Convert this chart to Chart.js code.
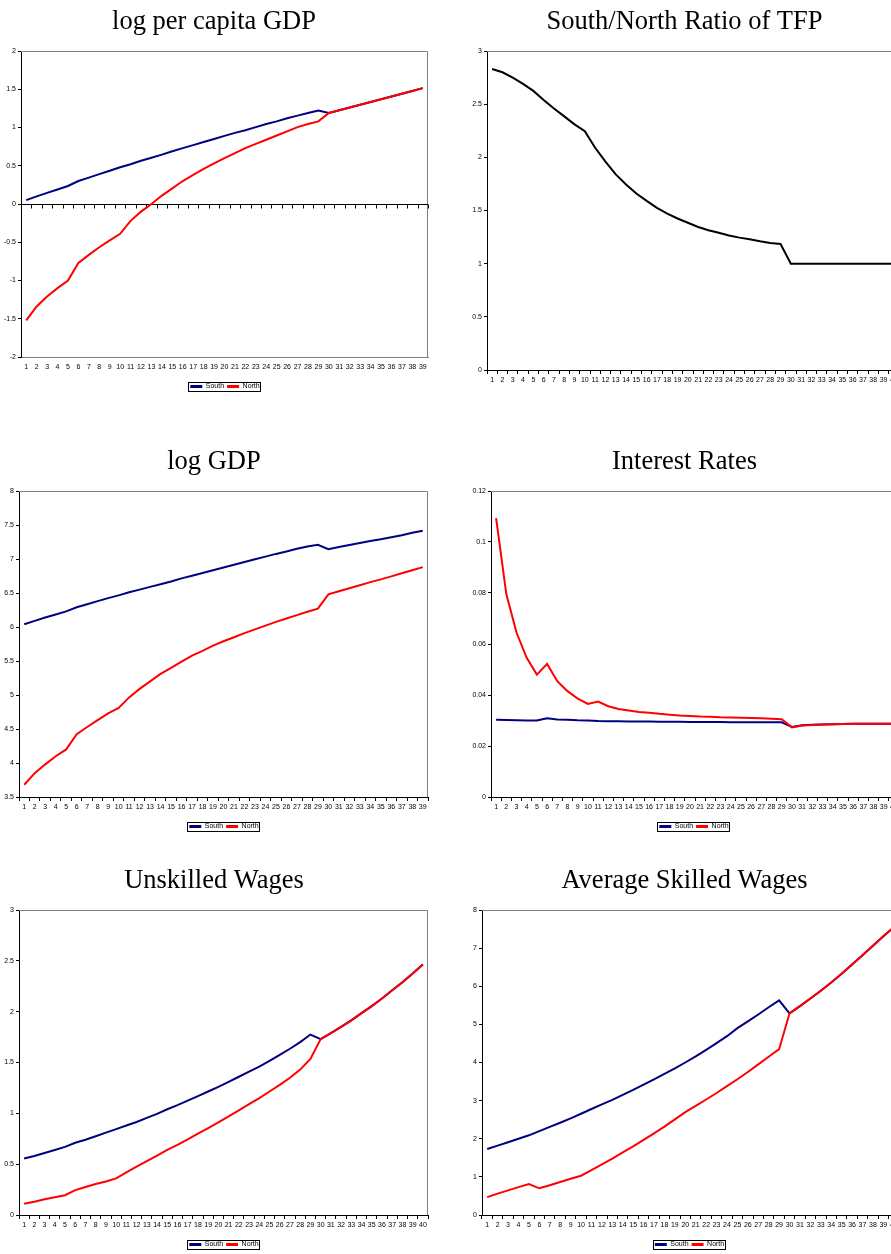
<!DOCTYPE html>
<html>
<head>
<meta charset="utf-8">
<script src="https://cdn.jsdelivr.net/npm/chart.js@4.4.1/dist/chart.umd.min.js"></script>
<style>
  html, body { margin: 0; padding: 0; background: #fff; overflow: hidden; width: 891px; height: 1254px; }
  canvas { position: absolute; }
</style>
</head>
<body>
<canvas id="gdppc" width="445" height="400" style="left:0;top:0"></canvas>
<canvas id="tfp" width="466" height="393" style="left:450px;top:0"></canvas>
<canvas id="gdp" width="445" height="400" style="left:0;top:440px"></canvas>
<canvas id="rates" width="466" height="400" style="left:450px;top:440px"></canvas>
<canvas id="unskilled" width="445" height="399" style="left:0;top:859px"></canvas>
<canvas id="skilled" width="466" height="399" style="left:450px;top:859px"></canvas>
<script>
// periods on the x axis
const periods39 = ['1','2','3','4','5','6','7','8','9','10','11','12','13','14','15','16','17','18','19','20',
  '21','22','23','24','25','26','27','28','29','30','31','32','33','34','35','36','37','38','39'];
const periods40 = ['1','2','3','4','5','6','7','8','9','10','11','12','13','14','15','16','17','18','19','20',
  '21','22','23','24','25','26','27','28','29','30','31','32','33','34','35','36','37','38','39','40'];

// log per capita GDP
const gdppcSouth = [0.05, 0.10, 0.145, 0.19, 0.235, 0.30, 0.345, 0.39, 0.435, 0.48, 0.52, 0.565, 0.605, 0.645, 0.69,
  0.73, 0.77, 0.81, 0.85, 0.89, 0.93, 0.965, 1.005, 1.045, 1.08, 1.12, 1.155, 1.19, 1.222, 1.19,
  1.226, 1.262, 1.298, 1.334, 1.37, 1.406, 1.442, 1.478, 1.515];
const gdppcNorth = [-1.52, -1.34, -1.21, -1.10, -1.0, -0.77, -0.665, -0.565, -0.475, -0.39, -0.22, -0.10, 0.0, 0.11, 0.205,
  0.30, 0.38, 0.46, 0.53, 0.60, 0.665, 0.73, 0.785, 0.84, 0.895, 0.95, 1.005, 1.045, 1.08, 1.19,
  1.226, 1.262, 1.298, 1.334, 1.37, 1.406, 1.442, 1.478, 1.515];

// South/North ratio of TFP
const tfpRatio = [2.83, 2.80, 2.75, 2.69, 2.625, 2.54, 2.46, 2.385, 2.31, 2.245, 2.09, 1.96, 1.84, 1.745, 1.66,
  1.59, 1.525, 1.47, 1.425, 1.385, 1.345, 1.315, 1.29, 1.265, 1.245, 1.23, 1.21, 1.195, 1.185, 1.0,
  1.0, 1.0, 1.0, 1.0, 1.0, 1.0, 1.0, 1.0, 1.0, 1.0];

// log GDP
const gdpSouth = [6.04, 6.09, 6.14, 6.185, 6.23, 6.29, 6.335, 6.38, 6.425, 6.465, 6.51, 6.55, 6.59, 6.63, 6.67,
  6.715, 6.755, 6.795, 6.835, 6.875, 6.915, 6.955, 6.995, 7.035, 7.075, 7.11, 7.15, 7.185, 7.21, 7.145,
  7.175, 7.205, 7.235, 7.265, 7.29, 7.32, 7.35, 7.385, 7.415];
const gdpNorth = [3.68, 3.85, 3.98, 4.10, 4.20, 4.425, 4.53, 4.63, 4.73, 4.81, 4.965, 5.09, 5.20, 5.31, 5.40,
  5.49, 5.58, 5.65, 5.725, 5.79, 5.85, 5.91, 5.965, 6.02, 6.075, 6.125, 6.175, 6.225, 6.27, 6.48,
  6.525, 6.57, 6.615, 6.66, 6.70, 6.745, 6.79, 6.835, 6.88];

// interest rates
const rateSouth = [0.0303, 0.0302, 0.0301, 0.0300, 0.0300, 0.0309, 0.0304, 0.0303, 0.0301, 0.0300, 0.0298, 0.0297, 0.0297, 0.0296, 0.0296,
  0.0296, 0.0295, 0.0295, 0.0295, 0.0294, 0.0294, 0.0294, 0.0294, 0.0293, 0.0293, 0.0293, 0.0293, 0.0293, 0.0293, 0.0275,
  0.0281, 0.0283, 0.0284, 0.0285, 0.0286, 0.0287, 0.0287, 0.0287, 0.0287, 0.0287];
const rateNorth = [0.1094, 0.0796, 0.0645, 0.0546, 0.0480, 0.0522, 0.0454, 0.0415, 0.0386, 0.0365, 0.0374, 0.0356, 0.0345, 0.0339, 0.0333,
  0.0330, 0.0326, 0.0323, 0.0320, 0.0318, 0.0316, 0.0315, 0.0313, 0.0312, 0.0311, 0.0310, 0.0309, 0.0307, 0.0305, 0.0273,
  0.0280, 0.0282, 0.0284, 0.0285, 0.0286, 0.0287, 0.0287, 0.0287, 0.0287, 0.0287];

// unskilled wages
const unskSouth = [0.555, 0.58, 0.61, 0.64, 0.67, 0.71, 0.74, 0.775, 0.81, 0.845, 0.88, 0.915, 0.955, 0.995, 1.04,
  1.08, 1.125, 1.17, 1.215, 1.26, 1.31, 1.36, 1.41, 1.46, 1.515, 1.575, 1.635, 1.70, 1.775, 1.73,
  1.79, 1.85, 1.915, 1.985, 2.055, 2.13, 2.21, 2.29, 2.375, 2.465];
const unskNorth = [0.11, 0.13, 0.155, 0.175, 0.195, 0.245, 0.275, 0.305, 0.33, 0.36, 0.42, 0.475, 0.53, 0.585, 0.64,
  0.69, 0.745, 0.80, 0.855, 0.91, 0.97, 1.03, 1.09, 1.15, 1.215, 1.28, 1.35, 1.43, 1.535, 1.73,
  1.79, 1.85, 1.915, 1.985, 2.055, 2.13, 2.21, 2.29, 2.375, 2.465];

// average skilled wages
const skSouth = [1.73, 1.82, 1.91, 2.0, 2.09, 2.2, 2.31, 2.42, 2.535, 2.655, 2.78, 2.90, 3.02, 3.15, 3.28,
  3.42, 3.56, 3.70, 3.845, 4.0, 4.16, 4.33, 4.51, 4.69, 4.90, 5.08, 5.26, 5.45, 5.63, 5.29,
  5.48, 5.68, 5.88, 6.10, 6.33, 6.57, 6.81, 7.06, 7.31, 7.55];
const skNorth = [0.47, 0.56, 0.645, 0.73, 0.81, 0.70, 0.78, 0.865, 0.95, 1.03, 1.18, 1.33, 1.48, 1.64, 1.80,
  1.97, 2.14, 2.32, 2.51, 2.70, 2.86, 3.03, 3.20, 3.38, 3.56, 3.75, 3.95, 4.15, 4.35, 5.29,
  5.48, 5.68, 5.88, 6.10, 6.33, 6.57, 6.81, 7.06, 7.31, 7.55];

const NAVY = '#000080';
const RED = '#ff0000';
const tickFont = { family: 'Liberation Sans, Arial, sans-serif', size: 7 };

// grey plot border (top/right), plus a black axis line where x crosses y (e.g. at 0)
const excelFrame = {
  id: 'excelFrame',
  afterLayout(chart, args, opts) {
    // Excel centres the legend on the whole chart object, which is a bit right of ours
    const lg = chart.legend;
    if (lg && opts.legendShift) {
      lg.left += opts.legendShift;
      lg.right += opts.legendShift;
    }
  },
  beforeDatasetsDraw(chart, args, opts) {
    const { ctx, chartArea: a } = chart;
    ctx.save();
    ctx.strokeStyle = '#808080';
    ctx.lineWidth = 1;
    ctx.beginPath();
    ctx.moveTo(a.left, a.top + 0.5);
    ctx.lineTo(a.right - 0.5, a.top + 0.5);
    ctx.lineTo(a.right - 0.5, a.bottom);
    ctx.stroke();
    if (opts.crossAt !== undefined) {
      const x = chart.scales.x;
      const y = Math.round(chart.scales.y.getPixelForValue(opts.crossAt)) + 0.5;
      ctx.strokeStyle = '#000';
      ctx.beginPath();
      ctx.moveTo(a.left, y);
      ctx.lineTo(a.right, y);
      const step = x.getPixelForValue(1) - x.getPixelForValue(0);
      for (let i = 0; i <= x.ticks.length; i++) {
        const px = Math.round(x.getPixelForValue(0) - step / 2 + i * step) + 0.5;
        ctx.moveTo(px, y);
        ctx.lineTo(px, y + 4);
      }
      ctx.stroke();
    }
    ctx.restore();
  }
};

// thin black box around the legend entries
const legendBox = {
  id: 'legendBox',
  afterDraw(chart) {
    const lg = chart.legend;
    if (!lg || !lg.options.display || !lg.legendHitBoxes.length) return;
    const hb = lg.legendHitBoxes;
    const l = Math.min(...hb.map(b => b.left)) - 2;
    const r = Math.max(...hb.map(b => b.left + b.width)) + 1;
    const t = Math.min(...hb.map(b => b.top)) - 1;
    const btm = Math.max(...hb.map(b => b.top + b.height)) + 1;
    const ctx = chart.ctx;
    ctx.save();
    ctx.strokeStyle = '#000';
    ctx.lineWidth = 1;
    ctx.strokeRect(Math.round(l) + 0.5, Math.round(t) + 0.5, Math.round(r - l), Math.round(btm - t));
    ctx.restore();
  }
};

function makeChart(id, cfg) {
  const datasets = cfg.series.map((s, i) => ({
    label: s.label,
    data: s.data,
    borderColor: s.color,
    backgroundColor: s.color,
    borderWidth: 2,
    pointRadius: 0,
    tension: 0,
    order: cfg.series.length - i
  }));
  return new Chart(document.getElementById(id), {
    type: 'line',
    data: { labels: cfg.labels, datasets: datasets },
    options: {
      responsive: false,
      animation: false,
      events: [],
      layout: { padding: { left: cfg.left, right: 17, top: 0, bottom: 0 } },
      plugins: {
        title: {
          display: true,
          text: cfg.title,
          color: '#000',
          font: { family: 'Liberation Serif, Times New Roman, serif', size: 26.5, weight: 'normal' },
          padding: { top: 6, bottom: 13.2 }
        },
        legend: {
          display: cfg.legend,
          position: 'bottom',
          labels: {
            boxWidth: 12,
            boxHeight: 3,
            padding: 3,
            color: '#000',
            font: { family: 'Liberation Sans, Arial, sans-serif', size: 7 },
            sort: (a, b) => a.datasetIndex - b.datasetIndex,
            generateLabels: (chart) => Chart.defaults.plugins.legend.labels.generateLabels(chart)
              .map(item => Object.assign(item, { lineWidth: 0 }))
          }
        },
        tooltip: { enabled: false },
        excelFrame: { crossAt: cfg.crossAt, legendShift: cfg.legendShift }
      },
      scales: {
        x: {
          type: 'category',
          offset: true,
          afterFit: (s) => { s.height = 23; },
          border: { color: cfg.crossAt !== undefined ? '#808080' : '#000', width: 1 },
          grid: {
            offset: true,
            drawOnChartArea: false,
            tickLength: 4,
            color: cfg.crossAt !== undefined ? 'rgba(0,0,0,0)' : '#000'
          },
          ticks: { autoSkip: false, maxRotation: 0, minRotation: 0, padding: 2, color: '#000', font: tickFont }
        },
        y: {
          min: cfg.yMin,
          max: cfg.yMax,
          afterFit: (s) => { s.width = cfg.yWidth; },
          border: { color: '#000', width: 1 },
          grid: { drawOnChartArea: false, tickLength: 3, color: '#000' },
          ticks: {
            stepSize: cfg.yStep, padding: 2, color: '#000', font: tickFont,
            callback: (v) => String(Number(v.toFixed(4)))
          }
        }
      }
    },
    plugins: [excelFrame, legendBox]
  });
}

makeChart('gdppc', {
  title: 'log per capita GDP', labels: periods39, legend: true, crossAt: 0, legendShift: 11,
  yMin: -2, yMax: 2, yStep: 0.5, left: 0, yWidth: 21,
  series: [{ label: 'South', data: gdppcSouth, color: NAVY }, { label: 'North', data: gdppcNorth, color: RED }]
});
makeChart('tfp', {
  title: 'South/North Ratio of TFP', labels: periods40, legend: false,
  yMin: 0, yMax: 3, yStep: 0.5, left: 20, yWidth: 17,
  series: [{ label: 'Ratio', data: tfpRatio, color: '#000' }]
});
makeChart('gdp', {
  title: 'log GDP', labels: periods39, legend: true, legendShift: 10,
  yMin: 3.5, yMax: 8, yStep: 0.5, left: 0, yWidth: 19,
  series: [{ label: 'South', data: gdpSouth, color: NAVY }, { label: 'North', data: gdpNorth, color: RED }]
});
makeChart('rates', {
  title: 'Interest Rates', labels: periods40, legend: true, legendShift: 9.5,
  yMin: 0, yMax: 0.12, yStep: 0.02, left: 20, yWidth: 21,
  series: [{ label: 'South', data: rateSouth, color: NAVY }, { label: 'North', data: rateNorth, color: RED }]
});
makeChart('unskilled', {
  title: 'Unskilled Wages', labels: periods40, legend: true, legendShift: 10,
  yMin: 0, yMax: 3, yStep: 0.5, left: 0, yWidth: 19,
  series: [{ label: 'South', data: unskSouth, color: NAVY }, { label: 'North', data: unskNorth, color: RED }]
});
makeChart('skilled', {
  title: 'Average Skilled Wages', labels: periods40, legend: true, legendShift: 5,
  yMin: 0, yMax: 8, yStep: 1, left: 20, yWidth: 12,
  series: [{ label: 'South', data: skSouth, color: NAVY }, { label: 'North', data: skNorth, color: RED }]
});
</script>
</body>
</html>
